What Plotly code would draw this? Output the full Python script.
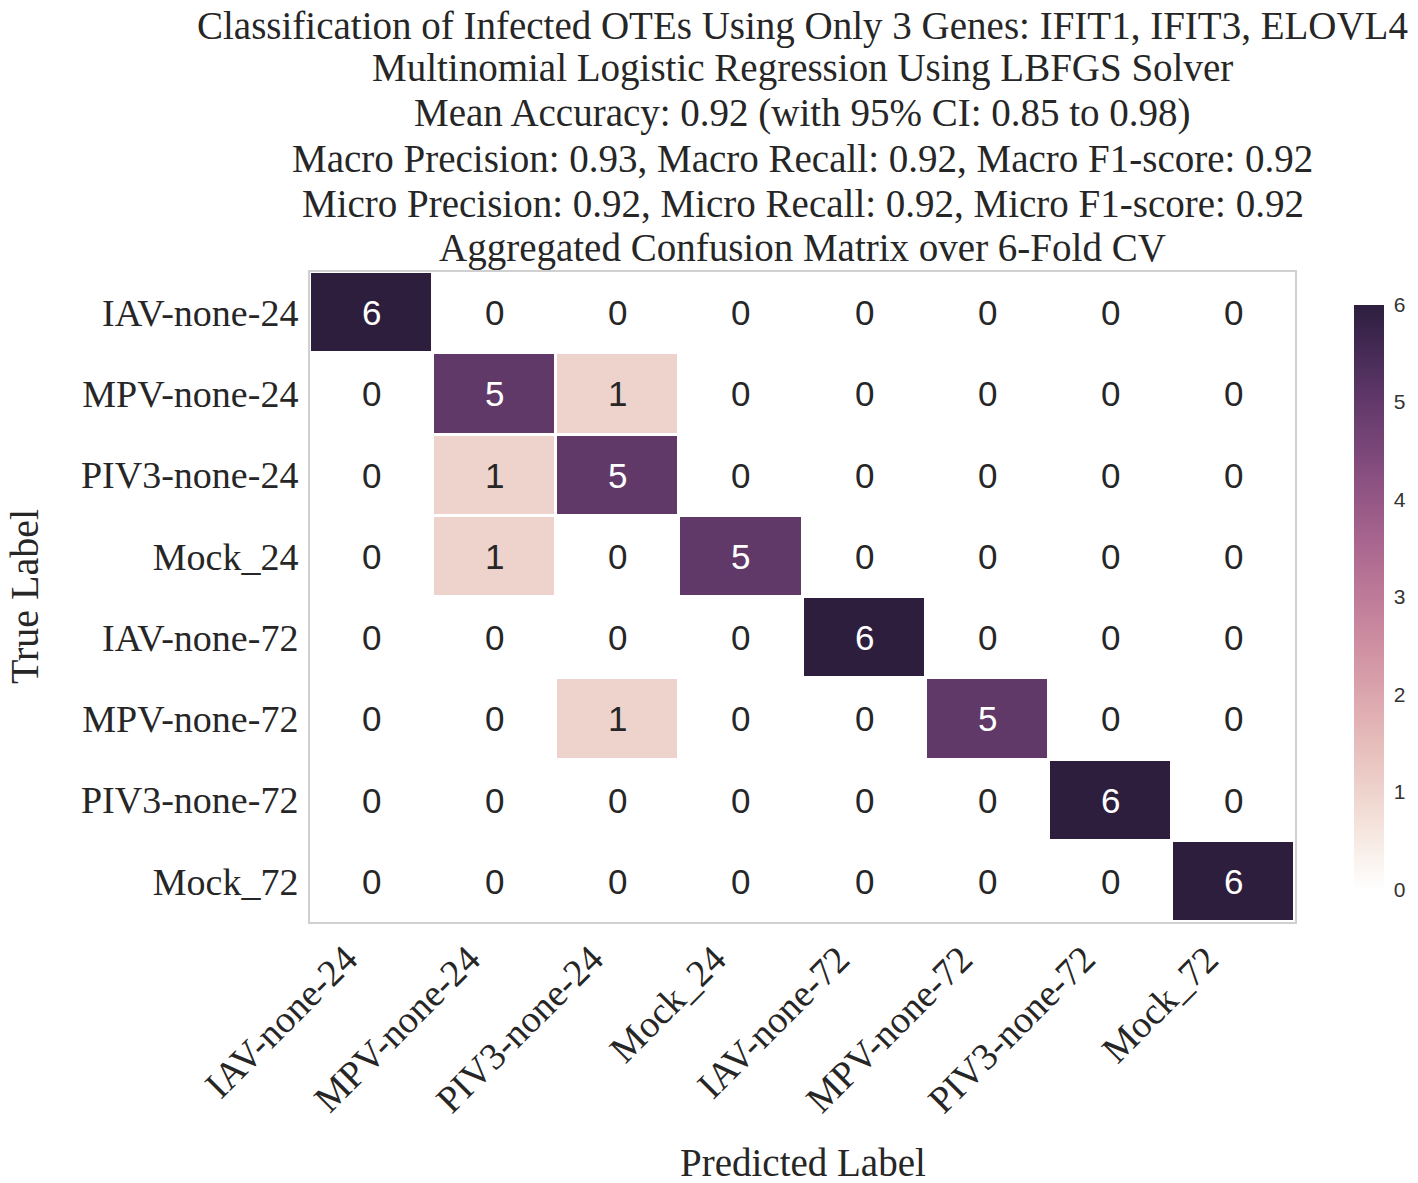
import numpy as np
import plotly.graph_objects as go

# ── datos ─────────────────────────────────────────────────────────────────────
clases = ['IAV-none-24', 'MPV-none-24', 'PIV3-none-24', 'Mock_24',
          'IAV-none-72', 'MPV-none-72', 'PIV3-none-72', 'Mock_72']

matriz = [
    [6, 0, 0, 0, 0, 0, 0, 0],
    [0, 5, 1, 0, 0, 0, 0, 0],
    [0, 1, 5, 0, 0, 0, 0, 0],
    [0, 1, 0, 5, 0, 0, 0, 0],
    [0, 0, 0, 0, 6, 0, 0, 0],
    [0, 0, 1, 0, 0, 5, 0, 0],
    [0, 0, 0, 0, 0, 0, 6, 0],
    [0, 0, 0, 0, 0, 0, 0, 6],
]

titulo = [
    'Classification of Infected OTEs Using Only 3 Genes: IFIT1, IFIT3, ELOVL4',
    'Multinomial Logistic Regression Using LBFGS Solver',
    'Mean Accuracy: 0.92 (with 95% CI: 0.85 to 0.98)',
    'Macro Precision: 0.93, Macro Recall: 0.92, Macro F1-score: 0.92',
    'Micro Precision: 0.92, Micro Recall: 0.92, Micro F1-score: 0.92',
    'Aggregated Confusion Matrix over 6-Fold CV',
]

# ── paleta cubehelix (estilo seaborn, light=1, dark=0.15) ────────────────────
def cubehelix(x, start=0.0, rot=0.4, gamma=1.0, hue=0.8):
    xg = x ** gamma
    a = hue * xg * (1 - xg) / 2
    phi = 2 * np.pi * (start / 3 + rot * x)
    r = xg + a * (-0.14861 * np.cos(phi) + 1.78277 * np.sin(phi))
    g = xg + a * (-0.29227 * np.cos(phi) - 0.90649 * np.sin(phi))
    b = xg + a * (1.97294 * np.cos(phi))
    return [int(round(255 * min(max(c, 0), 1))) for c in (r, g, b)]

escala = []
for t in np.linspace(0, 1, 21):
    r, g, b = cubehelix(1 - t * 0.85)
    escala.append([float(t), f'rgb({r},{g},{b})'])

SERIF = 'Liberation Serif, Times New Roman, serif'
SANS = 'Liberation Sans, Arial, sans-serif'
GRIS = '#262626'

# ── figura ────────────────────────────────────────────────────────────────────
fig = go.Figure(go.Heatmap(
    z=matriz, x=clases, y=clases,
    colorscale=escala, zmin=0, zmax=6,
    xgap=3, ygap=3,
    hovertemplate='True: %{y}<br>Pred: %{x}<br>%{z}<extra></extra>',
    colorbar=dict(
        x=1.0597, xanchor='left', xref='paper', xpad=0,
        y=0.5, yanchor='middle', len=0.9, ypad=0,
        thickness=30, outlinewidth=0,
        tickvals=list(range(7)),
        ticks='outside', ticklen=6, tickcolor='rgba(0,0,0,0)',
        tickfont=dict(family=SANS, size=21, color='#333333'),
    ),
))

# números en las celdas
for i, fila in enumerate(matriz):
    for j, v in enumerate(fila):
        fig.add_annotation(
            x=clases[j], y=clases[i], text=str(v), showarrow=False,
            font=dict(family=SANS, size=35, color='white' if v > 3 else GRIS),
        )

# etiquetas del eje x (rotadas, alineadas a la derecha como matplotlib)
for c in clases:
    fig.add_annotation(
        x=c, y=0, xref='x', yref='paper',
        xanchor='right', yanchor='top', xshift=-4, yshift=-13,
        text=c, textangle=-45, showarrow=False,
        font=dict(family=SERIF, size=38, color=GRIS),
    )

# título en líneas
for k, linea in enumerate(titulo):
    fig.add_annotation(
        x=0.5, y=1, xref='paper', yref='paper',
        xanchor='center', yanchor='middle',
        yshift=(246 if k == 0 else 249 - 45 * k),
        text=linea, showarrow=False,
        font=dict(family=SERIF, size=39, color=GRIS),
    )

# títulos de ejes
fig.add_annotation(
    x=0.5, y=0, xref='paper', yref='paper',
    xanchor='center', yanchor='middle', yshift=-240,
    text='Predicted Label', showarrow=False,
    font=dict(family=SERIF, size=39, color=GRIS),
)
fig.add_annotation(
    x=0, y=0.5, xref='paper', yref='paper',
    xanchor='center', yanchor='middle', xshift=-286,
    text='True Label', textangle=-90, showarrow=False,
    font=dict(family=SERIF, size=40, color=GRIS),
)

fig.update_layout(
    width=1418, height=1183,
    margin=dict(l=310, r=118, t=272, b=261),
    plot_bgcolor='white', paper_bgcolor='white',
    font=dict(family=SERIF, size=38, color=GRIS),
    xaxis=dict(
        range=[-0.5, len(clases) - 0.5],
        showticklabels=False, ticks='', showgrid=False, zeroline=False,
        showline=True, mirror=True, linecolor='#d0d0d0', linewidth=2,
        automargin=False,
    ),
    yaxis=dict(
        range=[len(clases) - 0.5, -0.5],
        ticks='', showgrid=False, zeroline=False,
        showline=True, mirror=True, linecolor='#d0d0d0', linewidth=2,
        tickfont=dict(family=SERIF, size=38, color=GRIS),
        ticklabelstandoff=2, automargin=False,
    ),
)

# sin el margen por defecto de la página, la figura ocupa toda la ventana
fig.write_html(
    'out.html',
    config={'displayModeBar': False},
    post_script="document.body.style.margin='0';",
)
